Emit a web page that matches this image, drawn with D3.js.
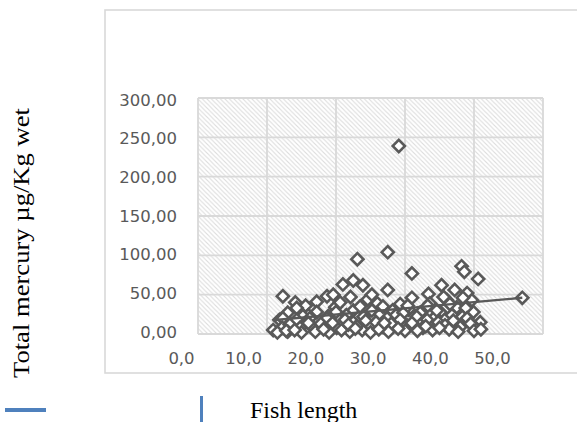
<!DOCTYPE html>
<html>
<head>
<meta charset="utf-8">
<script src="https://cdn.jsdelivr.net/npm/d3@7"></script>
<style>
  html, body { margin: 0; padding: 0; background: #fff; }
  svg { display: block; }
</style>
</head>
<body>
<svg id="chart" width="577" height="422"></svg>
<script>
// Fish length (cm) vs total mercury (µg/Kg wet)
const fishLength = [
  29.1, 27.5, 23.1, 31.0, 38.2, 38.6, 40.6, 47.0,
  12.3, 14.1, 15.6, 17.2, 18.7, 19.6, 21.0, 22.5, 23.9, 22.1, 24.6, 26.0, 27.5, 29.3, 31.0, 33.4, 33.6, 35.3, 37.2, 39.0, 36.1, 39.7, 25.2, 35.6, 38.4,
  14.3, 17.2, 19.9, 22.5, 25.2, 20.6, 16.0, 13.0, 28.2, 30.5, 32.2, 33.3, 35.1, 37.5, 39.9, 36.8, 34.4, 31.7, 28.7, 26.4, 24.0, 21.5, 18.9, 15.2, 11.8,
  34.6, 36.5, 38.8, 38.3, 29.8, 23.5, 20.0, 26.8, 30.4,
  12.3, 14.3, 16.2, 18.7, 21.3, 22.5, 27.4, 29.3, 32.6, 33.2, 34.8, 39.0, 40.9, 24.9, 30.3, 26.8, 38.0, 40.1, 32.6, 20.1,
  12.2, 14.8, 16.7, 10.9, 23.8, 13.3, 17.8, 19.5, 23.0, 25.8, 28.0, 31.0, 35.8, 37.0, 39.5, 36.4, 34.0, 30.0, 27.6, 25.0,
  22.0, 19.0, 17.0, 15.0, 13.0, 11.5, 12.8, 20.8, 26.2, 29.0, 31.8, 33.0, 35.0, 37.7, 40.0, 41.0, 16.0, 21.8, 24.3, 18.2,
  14.0, 22.8, 27.0
];
const mercury = [
  239, 104, 95, 77, 86, 79, 70, 46,
  48, 40, 36, 41, 48, 50, 63, 68, 62, 47, 44, 39, 56, 38, 46, 51, 39, 62, 56, 52, 43, 43, 50, 47, 46,
  33, 28, 34, 30, 30, 40, 24, 27, 30, 31, 27, 36, 28, 34, 28, 24, 22, 22, 24, 25, 22, 24, 23, 23, 18,
  30, 38, 33, 22, 27, 35, 28, 35, 36,
  20, 18, 20, 20, 18, 15, 20, 18, 15, 18, 15, 20, 15, 11, 11, 9, 9, 9, 8, 8,
  8, 8, 8, 5, 5, 12, 13, 14, 10, 15, 13, 14, 11, 17, 13, 6, 5, 4, 3, 2,
  3, 2, 3, 2, 3, 2, 4, 5, 6, 7, 4, 10, 8, 3, 4, 6, 14, 12, 17, 6,
  5, 7, 14
];
// Linear trend line end points
const trendX = [10.8, 47.0];
const trendY = [17.5, 46];

const xTicks = [0, 10, 20, 30, 40, 50];
const yTicks = [0, 50, 100, 150, 200, 250, 300];
const yTitle = "Total mercury µg/Kg wet";
const xTitle = "Fish length";

const locale = d3.formatLocale({ decimal: ",", thousands: ".", grouping: [3], currency: ["", ""] });
const fmtY = locale.format(".2f");
const fmtX = locale.format(".1f");

const svg = d3.select("#chart");

// Chart frame
svg.append("rect")
  .attr("x", 105).attr("y", 10).attr("width", 500).attr("height", 363)
  .attr("fill", "none").attr("stroke", "#d9d9d9").attr("stroke-width", 1.6);

const x = d3.scaleLinear().domain([0, 50]).range([198, 543]);
const y = d3.scaleLinear().domain([0, 300]).range([334, 98]);
const xLabel = d3.scaleLinear().domain([0, 50]).range([181, 492]);
const yLabel = d3.scaleLinear().domain([0, 300]).range([332, 100]);

// Hatched plot background
const defs = svg.append("defs");
const pat = defs.append("pattern")
  .attr("id", "hatch").attr("patternUnits", "userSpaceOnUse")
  .attr("width", 4.5).attr("height", 4.5);
pat.append("rect").attr("width", 4.5).attr("height", 4.5).attr("fill", "#fff");
pat.append("path")
  .attr("d", "M-1,-1 L5.5,5.5 M-1,3.5 L1,5.5 M3.5,-1 L5.5,1")
  .attr("stroke", "#dcdcdc").attr("stroke-width", 1.1);

svg.append("rect")
  .attr("x", x(0)).attr("y", y(300))
  .attr("width", x(50) - x(0)).attr("height", y(0) - y(300))
  .attr("fill", "url(#hatch)");

// Gridlines
const grid = svg.append("g").attr("stroke", "#d9d9d9").attr("stroke-width", 1.8);
grid.selectAll("line.v").data(xTicks).join("line")
  .attr("class", "v")
  .attr("x1", d => x(d)).attr("x2", d => x(d))
  .attr("y1", y(0)).attr("y2", y(300));
grid.selectAll("line.h").data(yTicks).join("line")
  .attr("class", "h")
  .attr("x1", x(0)).attr("x2", x(50))
  .attr("y1", d => y(d)).attr("y2", d => y(d));

// Axes labels
const yAxis = svg.append("g")
  .attr("transform", `translate(${x(0)},0)`)
  .call(d3.axisLeft(yLabel).tickValues(yTicks).tickFormat(fmtY).tickSize(0).tickPadding(21));
yAxis.select(".domain").remove();
yAxis.selectAll("text")
  .attr("fill", "#595959").attr("font-family", "DejaVu Sans").attr("font-size", 16.5);

const xAxis = svg.append("g")
  .attr("transform", `translate(0,${y(0)})`)
  .call(d3.axisBottom(xLabel).tickValues(xTicks).tickFormat(fmtX).tickSize(0).tickPadding(18));
xAxis.select(".domain").remove();
xAxis.selectAll("text")
  .attr("fill", "#595959").attr("font-family", "DejaVu Sans").attr("font-size", 16.5);

// Markers
const points = fishLength.map((d, i) => ({ x: d, y: mercury[i] }));
const diamond = d3.symbol().type(d3.symbolSquare).size(74);
svg.append("g").selectAll("path").data(points).join("path")
  .attr("d", diamond)
  .attr("transform", d => `translate(${x(d.x)},${y(d.y)}) rotate(45)`)
  .attr("fill", "#fff").attr("stroke", "#595959").attr("stroke-width", 2.6);

// Trend line
svg.append("path")
  .datum(trendX.map((d, i) => [d, trendY[i]]))
  .attr("d", d3.line().x(d => x(d[0])).y(d => y(d[1])))
  .attr("fill", "none").attr("stroke", "#595959").attr("stroke-width", 2.4);

// Axis titles
svg.append("text")
  .attr("transform", "translate(29,378) rotate(-90)")
  .attr("font-family", "Liberation Serif").attr("font-size", 23)
  .attr("textLength", 270).attr("lengthAdjust", "spacingAndGlyphs")
  .attr("fill", "#000").text(yTitle);

svg.append("text")
  .attr("x", 250).attr("y", 418)
  .attr("font-family", "Liberation Serif").attr("font-size", 24)
  .attr("fill", "#000").text(xTitle);

// Blue marks along the bottom edge
svg.append("line").attr("x1", 5).attr("x2", 46).attr("y1", 410).attr("y2", 410)
  .attr("stroke", "#4f81bd").attr("stroke-width", 4);
svg.append("line").attr("x1", 201.5).attr("x2", 201.5).attr("y1", 396).attr("y2", 422)
  .attr("stroke", "#4f81bd").attr("stroke-width", 3);
</script>
</body>
</html>
